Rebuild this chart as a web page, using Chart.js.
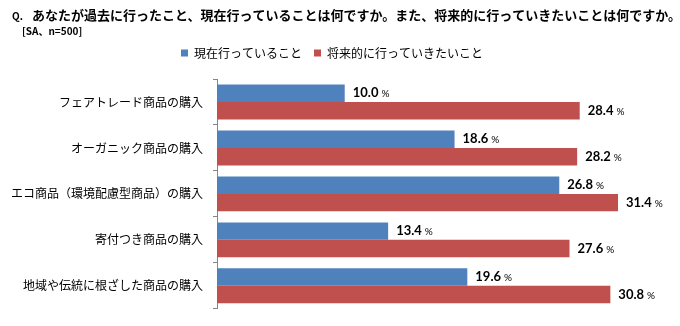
<!DOCTYPE html>
<html>
<head>
<meta charset="utf-8">
<script src="https://cdn.jsdelivr.net/npm/chart.js@4"></script>
<style>
  html, body { margin: 0; padding: 0; background: #fff; }
  #wrap { width: 680px; height: 326px; position: relative; }
</style>
</head>
<body>
<div id="wrap"><canvas id="chart" width="680" height="326"></canvas></div>
<script>
// --- Data ---
const categories = [
    'フェアトレード商品の購入',
    'オーガニック商品の購入',
    'エコ商品（環境配慮型商品）の購入',
    '寄付つき商品の購入',
    '地域や伝統に根ざした商品の購入'
];
const seriesNames = ['現在行っていること', '将来的に行っていきたいこと'];
const currentValues = [10.0, 18.6, 26.8, 13.4, 19.6];
const futureValues = [28.4, 28.2, 31.4, 27.6, 30.8];

const JP = '"Noto Sans CJK JP", sans-serif';

// --- Heading text drawn on the canvas ---
const headingPlugin = {
    id: 'heading',
    afterInit(chart) {
        // leave extra room between legend and bars
        const legend = chart.legend;
        const fit = legend.fit;
        legend.fit = function () {
            fit.call(legend);
            this.height += 10;
        };
    },
    beforeDraw(chart) {
        const ctx = chart.ctx;
        ctx.save();
        ctx.fillStyle = '#000';
        ctx.textBaseline = 'middle';
        ctx.textAlign = 'left';
        ctx.font = 'bold 10px ' + JP;
        ctx.fillText('Q.', 12, 16);
        ctx.font = 'bold 13px ' + JP;
        ctx.fillText('あなたが過去に行ったこと、現在行っていることは何ですか。また、将来的に行っていきたいことは何ですか。', 32, 15);
        ctx.font = 'bold 10px ' + JP;
        ctx.fillText('[SA、n=500]', 22, 31);
        ctx.restore();
    }
};

// --- Value labels: bold number + small % ---
const valueLabelPlugin = {
    id: 'valueLabels',
    afterDatasetsDraw(chart) {
        const ctx = chart.ctx;
        ctx.save();
        ctx.fillStyle = '#000';
        ctx.textBaseline = 'middle';
        ctx.textAlign = 'left';
        chart.data.datasets.forEach((ds, di) => {
            chart.getDatasetMeta(di).data.forEach((bar, i) => {
                const num = ds.data[i].toFixed(1);
                const x = bar.x + 8;
                ctx.font = 'bold 13px Lato, sans-serif';
                ctx.fillText(num, x, bar.y);
                const w = ctx.measureText(num).width;
                ctx.font = '10px Lato, sans-serif';
                ctx.fillText('%', x + w + 3, bar.y + 1);
            });
        });
        ctx.restore();
    }
};

new Chart(document.getElementById('chart'), {
    type: 'bar',
    data: {
        labels: categories,
        datasets: [
            { label: seriesNames[0], data: currentValues, backgroundColor: '#4F81BD', barPercentage: 1, categoryPercentage: 0.76 },
            { label: seriesNames[1], data: futureValues, backgroundColor: '#C0504D', barPercentage: 1, categoryPercentage: 0.76 }
        ]
    },
    options: {
        indexAxis: 'y',
        responsive: false,
        animation: false,
        layout: { padding: { top: 35, right: 16, bottom: 17, left: 0 } },
        plugins: {
            legend: {
                position: 'top',
                labels: {
                    boxWidth: 7, boxHeight: 7, padding: 12,
                    color: '#000',
                    font: { family: JP, size: 12 }
                }
            },
            tooltip: { enabled: false }
        },
        scales: {
            x: { display: false, min: 0, max: 35 },
            y: {
                afterFit: s => { s.width = 217; },
                border: { color: '#868686' },
                grid: { drawOnChartArea: false, tickLength: 4, color: '#868686' },
                ticks: { color: '#000', padding: 10, font: { family: JP, size: 12 } }
            }
        }
    },
    plugins: [headingPlugin, valueLabelPlugin]
});
</script>
</body>
</html>
